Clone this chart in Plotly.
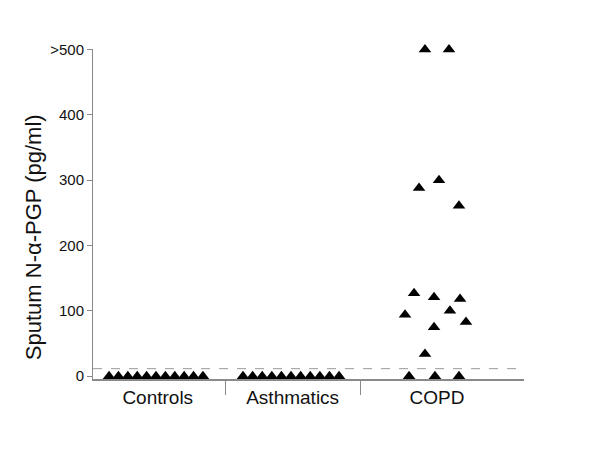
import plotly.graph_objects as go

categories = ["Controls", "Asthmatics", "COPD"]
category_centers = [0.5, 1.5, 2.57]
separators = [1, 2]
controls_vals = [0] * 11
asthma_vals = [0] * 11
copd_vals = [500, 500, 300, 288, 261, 127, 121, 118, 100, 94, 83, 75, 34, 0, 0, 0]
# horizontal (jitter) positions of the points
controls_pos = [0.139 + 0.0696 * i for i in range(11)]
asthma_pos = [1.132 + 0.0712 * i for i in range(11)]
copd_pos = [2.481, 2.659, 2.585, 2.437, 2.733, 2.400, 2.548, 2.741, 2.666, 2.333, 2.785, 2.548, 2.481, 2.363, 2.555, 2.733]
ytick_vals = [0, 100, 200, 300, 400, 500]
ytick_text = ["0", "100", "200", "300", "400", ">500"]
threshold = 11.5

fig = go.Figure()
for xs, ys in [(controls_pos, controls_vals), (asthma_pos, asthma_vals), (copd_pos, copd_vals)]:
    fig.add_trace(go.Scatter(x=xs, y=ys, mode="markers", cliponaxis=False,
                             marker=dict(symbol="triangle-up", size=11, color="black"),
                             showlegend=False))

fig.add_trace(go.Scatter(x=[0.02, 3.215], y=[threshold, threshold], mode="lines",
                         line=dict(color="#999999", width=1, dash="dash"),
                         showlegend=False, hoverinfo="skip"))

fig.add_annotation(text="Sputum N-α-PGP (pg/ml)", textangle=-90,
                   xref="paper", yref="paper", x=-0.139, y=0.43,
                   xanchor="center", yanchor="middle", showarrow=False,
                   font=dict(size=22, color="#111111"))

fig.update_layout(
    width=600, height=450,
    margin=dict(l=85, r=84, t=41, b=79),
    plot_bgcolor="white", paper_bgcolor="white",
    font=dict(family="Liberation Sans, Arial, sans-serif", color="#111111"),
    xaxis=dict(range=[0.02, 3.215], showgrid=False, zeroline=False,
               showline=True, linecolor="#8a8a8a", linewidth=2,
               tickmode="array", tickvals=category_centers, ticktext=categories,
               ticks="", tickfont=dict(size=19),
               minor=dict(tickmode="array", tickvals=separators, ticks="outside",
                          ticklen=14, tickcolor="#8a8a8a", tickwidth=1)),
    yaxis=dict(range=[-4.3, 500.8], showgrid=False, zeroline=False,
               showline=True, linecolor="#8a8a8a", linewidth=1,
               tickmode="array", tickvals=ytick_vals, ticktext=ytick_text,
               ticks="outside", ticklen=5, tickcolor="#8a8a8a",
               tickfont=dict(size=15)),
)

fig.write_html("out.html")
